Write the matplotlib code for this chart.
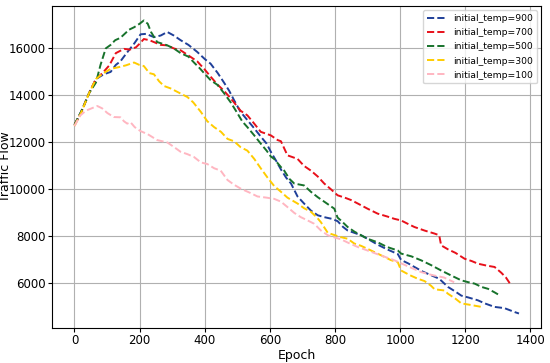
import matplotlib.pyplot as plt

# Values (epoch, traffic flow) for each initial temperature.
epoch_900 = [0, 20, 45, 66, 90, 111, 127, 141, 160, 183, 203, 220, 244, 265, 285, 305, 326, 350,
             377, 400, 418, 440, 459, 475, 490, 510, 531, 552, 572, 590, 603, 620, 634, 650, 665,
             685, 705, 726, 747, 767, 790, 808, 825, 839, 860, 880, 900, 931, 960, 993, 1003, 1025,
             1044, 1070, 1095, 1120, 1147, 1170, 1188, 1210, 1239, 1260, 1290, 1320, 1352, 1365]
flow_900 = [12750, 13300, 14100, 14700, 14900, 15000, 15300, 15450, 15800, 16200, 16600, 16620,
            16480, 16550, 16700, 16550, 16350, 16150, 15850, 15550, 15350, 14950, 14550, 14200,
            13800, 13300, 12950, 12600, 12250, 11950, 11600, 11200, 10850, 10500, 10250, 9700,
            9400, 9100, 8900, 8820, 8750, 8650, 8400, 8250, 8150, 8050, 7900, 7650, 7450, 7250,
            7000, 6850, 6700, 6500, 6350, 6200, 5850, 5650, 5480, 5400, 5280, 5150, 5000, 4950,
            4780, 4720]

epoch_700 = [0, 20, 45, 66, 86, 107, 127, 152, 170, 189, 200, 213, 230, 244, 265, 285, 305, 326,
             350, 377, 400, 418, 440, 459, 475, 490, 510, 531, 552, 572, 593, 603, 624, 634, 654,
             685, 705, 726, 747, 767, 788, 808, 830, 849, 870, 900, 931, 960, 982, 1003, 1023, 1044,
             1075, 1106, 1120, 1126, 1147, 1170, 1198, 1220, 1239, 1265, 1290, 1311, 1325, 1338]
flow_700 = [12750, 13250, 14100, 14700, 14950, 15280, 15800, 15980, 15950, 16050, 16200, 16400,
            16350, 16270, 16150, 16130, 16000, 15920, 15700, 15450, 15100, 14800, 14450, 14200,
            13950, 13700, 13350, 13150, 12800, 12450, 12350, 12300, 12100, 12050, 11450, 11300,
            11000, 10800, 10550, 10250, 10000, 9750, 9650, 9550, 9400, 9180, 8970, 8850, 8750,
            8680, 8540, 8400, 8250, 8120, 8050, 7620, 7450, 7300, 7050, 6950, 6840, 6760, 6700,
            6450, 6250, 5980]

epoch_500 = [0, 25, 45, 66, 80, 96, 111, 125, 141, 168, 183, 200, 213, 225, 235, 254, 270, 285,
             305, 326, 350, 367, 385, 398, 418, 439, 459, 480, 500, 515, 531, 552, 572, 590, 603,
             613, 634, 644, 660, 675, 705, 726, 747, 770, 798, 808, 818, 839, 860, 880, 900, 931,
             960, 993, 1003, 1035, 1065, 1095, 1126, 1155, 1188, 1210, 1229, 1250, 1270, 1290, 1306]
flow_500 = [12750, 13430, 14100, 14550, 15300, 16000, 16150, 16350, 16450, 16800, 16900, 17050,
            17190, 17050, 16700, 16270, 16200, 16130, 16000, 15800, 15650, 15400, 15150, 14950,
            14650, 14450, 14100, 13700, 13250, 12900, 12650, 12300, 11950, 11650, 11400, 11300,
            10950, 10800, 10450, 10250, 10170, 9900, 9670, 9450, 9180, 8800, 8680, 8400, 8200,
            8050, 7900, 7750, 7550, 7400, 7270, 7150, 6980, 6780, 6550, 6350, 6130, 6050, 5990,
            5850, 5770, 5620, 5490]

epoch_300 = [0, 20, 45, 66, 86, 111, 135, 158, 183, 199, 213, 230, 244, 260, 275, 295, 316, 347,
             365, 388, 408, 429, 450, 470, 490, 510, 531, 552, 572, 593, 613, 634, 654, 685, 705,
             726, 745, 757, 778, 800, 818, 839, 859, 880, 911, 941, 972, 993, 1003, 1030, 1054,
             1075, 1095, 1106, 1136, 1147, 1170, 1188, 1210, 1230, 1255]
flow_300 = [12700, 13250, 14100, 14700, 14920, 15130, 15200, 15280, 15400, 15300, 15250, 14950,
            14900, 14600, 14400, 14300, 14150, 13930, 13700, 13300, 12900, 12650, 12450, 12150,
            12050, 11800, 11650, 11300, 10900, 10500, 10150, 9900, 9650, 9400, 9200, 9050, 8800,
            8600, 8150, 8050, 7970, 7900, 7700, 7600, 7400, 7200, 6990, 6900, 6550, 6350, 6200,
            6100, 5900, 5750, 5700, 5560, 5350, 5150, 5100, 5050, 4990]

epoch_100 = [0, 18, 35, 49, 70, 85, 101, 121, 141, 152, 162, 172, 185, 203, 225, 254, 285, 306,
             326, 347, 367, 388, 408, 429, 449, 470, 490, 511, 540, 562, 590, 613, 634, 654, 675,
             695, 716, 736, 757, 778, 800, 818, 845, 870, 900, 941, 980, 1020, 1065, 1100, 1135, 1166]
flow_100 = [12700, 13150, 13350, 13430, 13550, 13450, 13250, 13080, 13070, 12900, 12800, 12860,
            12650, 12480, 12350, 12100, 12000, 11800, 11600, 11500, 11380, 11150, 11080, 10900,
            10800, 10400, 10200, 10030, 9850, 9700, 9650, 9600, 9480, 9250, 9000, 8820, 8680,
            8540, 8250, 8050, 7950, 7880, 7700, 7550, 7400, 7190, 7000, 6750, 6480, 6350, 6250,
            6050]

labels = ['initial_temp=900', 'initial_temp=700', 'initial_temp=500',
          'initial_temp=300', 'initial_temp=100']
colors = ['#1f3f99', '#e8101a', '#17722b', '#ffcc00', '#ffb6c1']

series = [(epoch_900, flow_900), (epoch_700, flow_700), (epoch_500, flow_500),
          (epoch_300, flow_300), (epoch_100, flow_100)]

plt.rc('font', size=8.5)
plt.rc('xtick.major', size=3, pad=1.5)
plt.rc('ytick.major', size=3, pad=2)

fig, ax = plt.subplots(figsize=(5.5, 3.63), dpi=100)
for (x, y), label, color in zip(series, labels, colors):
    ax.plot(x, y, linestyle='--', linewidth=1.4, color=color, label=label)

ax.set_xlabel('Epoch', fontsize=9, labelpad=1)
ax.set_ylabel('Traffic Flow', fontsize=9)
ax.yaxis.set_label_coords(-0.083, 0.5)
ax.set_xticks([0, 200, 400, 600, 800, 1000, 1200, 1400])
ax.set_yticks([6000, 8000, 10000, 12000, 14000, 16000])
ax.grid(True)
ax.legend(loc='upper right', fontsize=6.7, labelspacing=0.55)

plt.subplots_adjust(left=0.095, right=0.984, top=0.984, bottom=0.096)
plt.savefig('out.png')
